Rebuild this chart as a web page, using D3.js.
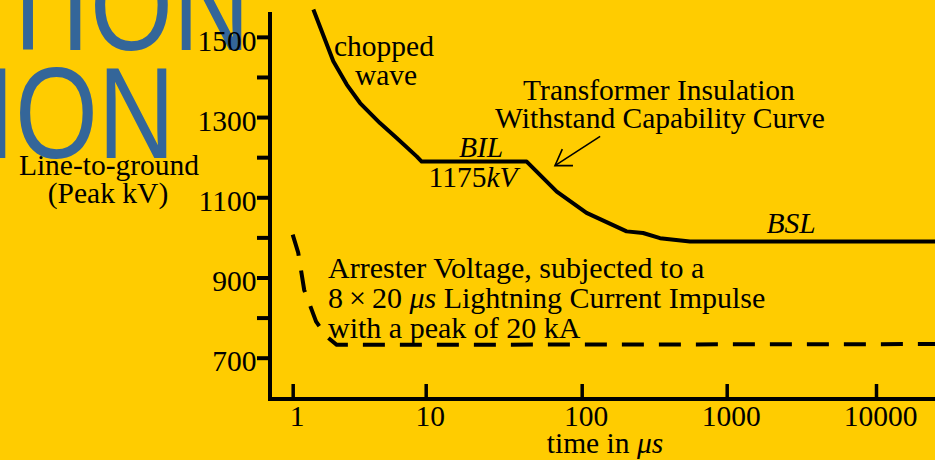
<!DOCTYPE html>
<html>
<head>
<meta charset="utf-8">
<script src="https://cdn.jsdelivr.net/npm/d3@7"></script>
<style>
  html, body { margin: 0; padding: 0; background: #ffcc00; }
  svg { display: block; }
</style>
</head>
<body>
<div id="chart"></div>
<script>
// transformer withstand curve: time (µs) and kV
const withstandTime = [1.43, 2.02, 2.55, 3.21, 4.53, 6.05, 8.55, 9.33, 44.4, 69.2, 108, 204, 265, 347, 558, 24850];
const withstandKV = [1568, 1439, 1381, 1335, 1285, 1248, 1202, 1189, 1189, 1114, 1061, 1015, 1011, 998, 990, 990];

// arrester voltage under 8x20 impulse
const arresterTime = [1.0, 1.10, 1.22, 1.50, 1.80, 2.14, 24850];
const arresterKV = [1007, 962, 869, 790, 753, 732, 734];

const xTicks = [1, 10, 100, 1000, 10000];
const yTicks = [700, 800, 900, 1000, 1100, 1200, 1300, 1400, 1500];
const yLabels = [700, 900, 1100, 1300, 1500];

// arrow pointing at the curve, in data units
const arrowFrom = [134, 1252];
const arrowTo = [67.4, 1179];

const titleLines = ['TION', 'ION'];

const width = 935;
const height = 460;
const serif = '"Liberation Serif", "Times New Roman", serif';

const svg = d3.select('#chart')
  .append('svg')
  .attr('width', width)
  .attr('height', height)
  .style('background-color', '#ffcc00');

// cropped slide title behind the chart
const titleX = [250, 175];
const titleY = [50, 158];
titleLines.forEach((t, i) => {
  svg.append('text')
    .attr('transform', `translate(${titleX[i]},${titleY[i]}) scale(0.82,1)`)
    .attr('text-anchor', 'end')
    .attr('font-family', '"Liberation Sans", Arial, sans-serif')
    .attr('font-size', 130)
    .attr('fill', '#346699')
    .text(t);
});

// the chart was drawn by hand, so decades are not quite even
const x = d3.scaleLog()
  .domain(xTicks)
  .range([292.7, 425.7, 581.7, 726.7, 876]);

const y = d3.scaleLinear()
  .domain([597, 1562])
  .range([399, 12]);

const originX = 270;
const originY = y(597);

// y axis
svg.append('g')
  .attr('transform', `translate(${originX},0)`)
  .call(d3.axisLeft(y)
    .tickValues(yTicks)
    .tickSize(13)
    .tickPadding(0.5)
    .tickFormat(d => yLabels.includes(d) ? d : ''))
  .call(g => g.select('.domain').remove())
  .attr('font-family', serif)
  .attr('font-size', 29.5)
  .call(g => g.selectAll('.tick line').attr('stroke', '#000').attr('stroke-width', 4))
  .call(g => g.selectAll('.tick text').attr('fill', '#000').attr('dy', '0.45em'));

// x axis, ticks pointing up
svg.append('g')
  .attr('transform', `translate(0,${originY})`)
  .call(d3.axisBottom(x)
    .tickValues(xTicks)
    .tickSize(-15)
    .tickPadding(6)
    .tickFormat(d3.format('d')))
  .call(g => g.select('.domain').remove())
  .attr('font-family', serif)
  .attr('font-size', 29.5)
  .call(g => g.selectAll('.tick line').attr('stroke', '#000').attr('stroke-width', 3.5))
  .call(g => g.selectAll('.tick text').attr('fill', '#000').attr('dx', 4));

svg.append('line')
  .attr('x1', originX).attr('x2', originX)
  .attr('y1', y(1562)).attr('y2', originY + 2)
  .attr('stroke', '#000').attr('stroke-width', 4);

svg.append('line')
  .attr('x1', originX - 2).attr('x2', width)
  .attr('y1', originY).attr('y2', originY)
  .attr('stroke', '#000').attr('stroke-width', 4);

// curves
const line = d3.line()
  .x(d => x(d[0]))
  .y(d => y(d[1]));

svg.append('path')
  .attr('d', line(d3.zip(withstandTime, withstandKV)))
  .attr('fill', 'none')
  .attr('stroke', '#000')
  .attr('stroke-width', 4)
  .attr('stroke-linejoin', 'round');

svg.append('path')
  .attr('d', line(d3.zip(arresterTime, arresterKV)))
  .attr('fill', 'none')
  .attr('stroke', '#000')
  .attr('stroke-width', 4)
  .attr('stroke-dasharray', '22,15');

// arrow
const a0 = [x(arrowFrom[0]), y(arrowFrom[1])];
const a1 = [x(arrowTo[0]), y(arrowTo[1])];
const ang = Math.atan2(a0[1] - a1[1], a0[0] - a1[0]);
const wing = 18;
const spread = 33 * Math.PI / 180;
svg.append('line')
  .attr('x1', a0[0]).attr('y1', a0[1])
  .attr('x2', a1[0]).attr('y2', a1[1])
  .attr('stroke', '#000').attr('stroke-width', 1.6);
svg.append('path')
  .attr('d', `M${a1[0] + wing * Math.cos(ang - spread)},${a1[1] + wing * Math.sin(ang - spread)}` +
    `L${a1[0]},${a1[1]}` +
    `L${a1[0] + wing * Math.cos(ang + spread)},${a1[1] + wing * Math.sin(ang + spread)}`)
  .attr('fill', 'none')
  .attr('stroke', '#000')
  .attr('stroke-width', 1.6);

// labels
function label(px, py, anchor, size = 29.5) {
  return svg.append('text')
    .attr('x', px)
    .attr('y', py)
    .attr('text-anchor', anchor)
    .attr('font-family', serif)
    .attr('font-size', size)
    .attr('fill', '#000');
}

label(384, 56, 'middle').text('chopped');
label(386, 85, 'middle').text('wave');
label(659, 100, 'middle').text('Transformer Insulation');
label(660, 128, 'middle').text('Withstand Capability Curve');
label(481, 157, 'middle').attr('font-style', 'italic').text('BIL');

const bilVal = label(473, 187, 'middle');
bilVal.append('tspan').text('1175');
bilVal.append('tspan').attr('font-style', 'italic').text('kV');

label(791, 233, 'middle').attr('font-style', 'italic').text('BSL');

label(328, 278, 'start', 30).text('Arrester Voltage, subjected to a');
const impulse = label(328, 308, 'start', 30);
impulse.append('tspan').text('8\u2009\u00d7\u200920 ');
impulse.append('tspan').attr('font-style', 'italic').text('\u03bcs');
impulse.append('tspan').text(' Lightning Current Impulse');
label(328, 338, 'start', 30).text('with a peak of 20 kA');

label(109, 175, 'middle').text('Line-to-ground');
label(108, 203, 'middle').text('(Peak kV)');

const xTitle = label(605, 453, 'middle');
xTitle.append('tspan').text('time in ');
xTitle.append('tspan').attr('font-style', 'italic').text('\u03bcs');
</script>
</body>
</html>
